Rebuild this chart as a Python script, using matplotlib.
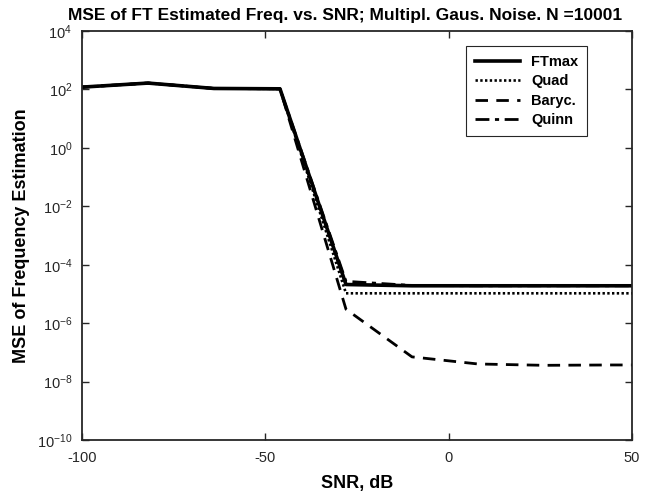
import math
import matplotlib
matplotlib.use("Agg")
import matplotlib.pyplot as plt
from matplotlib.ticker import NullLocator, FixedLocator, FuncFormatter

plt.rcParams['font.family'] = ['Liberation Sans', 'DejaVu Sans']
plt.rcParams['mathtext.fontset'] = 'custom'
plt.rcParams['mathtext.rm'] = 'Liberation Sans'
plt.rcParams['mathtext.it'] = 'Liberation Sans:italic'
plt.rcParams['mathtext.bf'] = 'Liberation Sans:bold'
plt.rcParams['axes.unicode_minus'] = False

snr = [-100, -82, -64, -46, -28, -10, 8, 26, 44, 62]
ftmax = [120, 165, 108, 105, 2.1e-5, 1.9e-5, 1.9e-5, 1.9e-5, 1.9e-5, 1.9e-5]
quad = [120, 165, 108, 105, 1.05e-5, 1.05e-5, 1.05e-5, 1.05e-5, 1.05e-5, 1.05e-5]
baryc = [120, 165, 108, 105, 3.0e-6, 7.0e-8, 4.0e-8, 3.6e-8, 3.7e-8, 3.7e-8]
quinn = [120, 165, 108, 105, 2.7e-5, 1.95e-5, 1.9e-5, 1.9e-5, 1.9e-5, 1.9e-5]

xticks = [-100, -50, 0, 50]
yexps = [-10, -8, -6, -4, -2, 0, 2, 4]

title = 'MSE of FT Estimated Freq. vs. SNR; Multipl. Gaus. Noise. N =10001'
xlabel = 'SNR, dB'
ylabel = 'MSE of Frequency Estimation'
labels = ['FTmax', 'Quad', 'Baryc.', 'Quinn']

fig = plt.figure(figsize=(6.48, 4.97), dpi=100)
ax = fig.add_axes([0.1265, 0.1147, 0.8488, 0.8229])

ax.plot(snr, ftmax, color='black', lw=2.6, linestyle='-', label=labels[0])
ax.plot(snr, quad, color='black', lw=1.9, linestyle=(0, (0.9, 0.9)), label=labels[1])
ax.plot(snr, baryc, color='black', lw=2.0, linestyle=(0, (4.5, 3)), label=labels[2])
ax.plot(snr, quinn, color='black', lw=2.0, linestyle=(0, (5, 2, 1.5, 2)), label=labels[3])

ax.set_yscale('log')
ax.set_xlim(-100, 50)
ax.set_ylim(1e-10, 1e4)
ax.set_xticks(xticks)
ax.set_xticklabels([str(v) for v in xticks])
ax.yaxis.set_major_locator(FixedLocator([10.0 ** e for e in yexps]))
ax.yaxis.set_major_formatter(FuncFormatter(lambda v, p: '10$^{%d}$' % round(math.log10(v))))
ax.yaxis.set_minor_locator(NullLocator())
ax.tick_params(axis='both', which='both', direction='in', top=True, right=True,
               labelsize=10.5, length=5, width=1, colors='#262626', labelcolor='#262626')
ax.tick_params(axis='x', pad=8)
ax.tick_params(axis='y', pad=7)
for s in ax.spines.values():
    s.set_linewidth(1.3)
    s.set_color('#262626')

ax.set_title(title, fontsize=12.5, fontweight='bold', pad=8, x=0.479)
ax.set_xlabel(xlabel, fontsize=13, fontweight='bold', labelpad=7)
ax.set_ylabel(ylabel, fontsize=13, fontweight='bold', labelpad=5)

leg = ax.legend(loc='upper right', bbox_to_anchor=(0.918, 0.963), fancybox=False,
                edgecolor='#262626', framealpha=1, prop={'weight': 'bold', 'size': 10.5},
                handlelength=3.1, borderpad=0.6, labelspacing=0.37, handletextpad=0.75,
                borderaxespad=0)
leg.get_frame().set_linewidth(0.8)

fig.savefig('out.png', dpi=100)
